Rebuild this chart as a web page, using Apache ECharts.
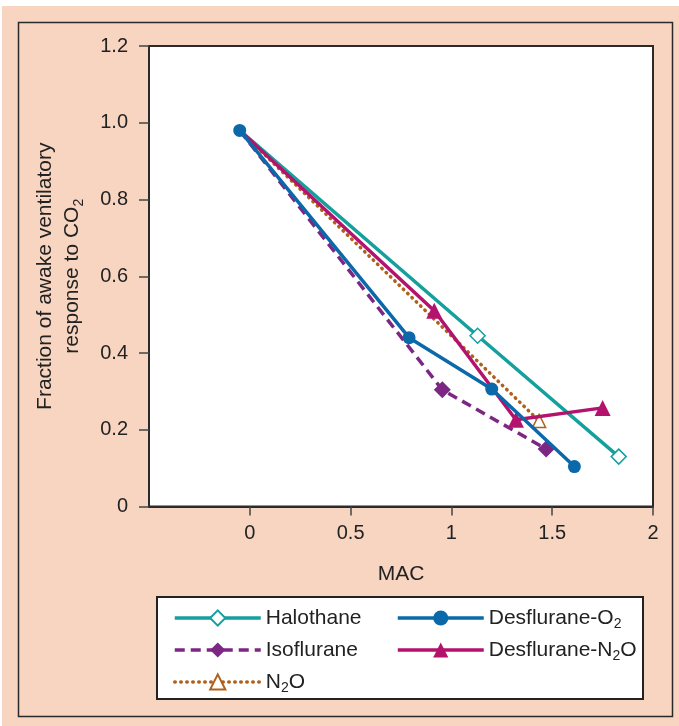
<!DOCTYPE html>
<html>
<head>
<meta charset="utf-8">
<script src="https://cdn.jsdelivr.net/npm/echarts@6/dist/echarts.min.js"></script>
<style>
html,body{margin:0;padding:0;background:#ffffff;}
#chart{width:679px;height:726px;}
</style>
</head>
<body>
<div id="chart"></div>
<script>
// ---- data ----
const xTicks = [0, 0.5, 1, 1.5, 2];
const halothaneX = [-0.05, 1.13, 1.83];
const halothaneY = [0.98, 0.445, 0.13];
const desO2X = [-0.05, 0.79, 1.20, 1.61];
const desO2Y = [0.98, 0.44, 0.306, 0.104];
const isoX = [-0.05, 0.955, 1.47];
const isoY = [0.98, 0.304, 0.150];
const desN2OX = [-0.05, 0.915, 1.32, 1.75];
const desN2OY = [0.98, 0.51, 0.226, 0.257];
const n2oX = [-0.05, 1.435];
const n2oY = [0.98, 0.223];

// shared starting point is marked only once (by the Desflurane-O2 circle)
const pairs = (xs, ys, hideFirst) => xs.map((x, i) =>
  (hideFirst && i === 0) ? {value: [x, ys[i]], symbol: 'none'} : [x, ys[i]]);

const FONT = '"Liberation Sans", Arial, Helvetica, sans-serif';
const TXT = '#222222';
const C = {
  halo: '#15a09e',
  o2: '#0b69aa',
  iso: '#7b2783',
  dn2o: '#b3126d',
  n2o: '#b0601c'
};

const chart = echarts.init(document.getElementById('chart'), null, {renderer: 'canvas'});

const subRich = {
  sub: {fontSize: 14, fontFamily: FONT, color: TXT, verticalAlign: 'bottom', lineHeight: 12}
};

const legendCommon = {
  orient: 'vertical', top: 600, itemGap: 6,
  itemWidth: 86, itemHeight: 19,
  lineStyle: {width: 3.5},
  textStyle: {fontSize: 21, fontFamily: FONT, color: TXT, lineHeight: 26, rich: subRich},
  selectedMode: false
};

const option = {
  backgroundColor: '#ffffff',
  animation: false,
  graphic: [
    {type: 'rect', z: -10, shape: {x: 2, y: 6, width: 677, height: 720}, style: {fill: '#f7d5c1'}},
    {type: 'rect', z: -9, shape: {x: 18.5, y: 22.5, width: 654, height: 694}, style: {fill: 'none', stroke: '#2a2a2a', lineWidth: 1.5}},
    {type: 'rect', z: -8, shape: {x: 157, y: 597, width: 486, height: 102}, style: {fill: '#ffffff', stroke: '#222222', lineWidth: 2}}
  ],
  grid: {
    left: 149, top: 46, right: 26, bottom: 219.5,
    show: true, backgroundColor: '#ffffff', borderColor: '#2a2a2a', borderWidth: 2,
    containLabel: false
  },
  xAxis: {
    type: 'value', min: -0.5, max: 2, interval: 0.5,
    name: 'MAC', nameLocation: 'middle', nameGap: 57,
    nameTextStyle: {fontSize: 21, fontFamily: FONT, color: TXT},
    axisLine: {show: true, onZero: false, lineStyle: {color: '#2a2a2a', width: 2}},
    axisTick: {show: true, inside: false, length: 9, customValues: xTicks, lineStyle: {color: '#444', width: 1.5}},
    axisLabel: {show: true, customValues: xTicks, margin: 17, fontSize: 20, fontFamily: FONT, color: TXT,
      formatter: v => String(v)},
    splitLine: {show: false}
  },
  yAxis: {
    type: 'value', min: 0, max: 1.2, interval: 0.2,
    name: 'Fraction of awake ventilatory\nresponse to CO{sub|2}', nameLocation: 'middle', nameGap: 63,
    nameTextStyle: {fontSize: 21, fontFamily: FONT, color: TXT, lineHeight: 27, rich: subRich},
    axisLine: {show: true, onZero: false, lineStyle: {color: '#2a2a2a', width: 2}},
    axisTick: {show: true, inside: false, length: 10, lineStyle: {color: '#444', width: 1.5}},
    axisLabel: {margin: 21, fontSize: 20, fontFamily: FONT, color: TXT,
      formatter: v => (v === 0 ? '0' : v.toFixed(1))},
    splitLine: {show: false}
  },
  legend: [
    Object.assign({}, legendCommon, {
      data: ['Halothane', 'Isoflurane', 'N2O'],
      left: 168,
      formatter: n => (n === 'N2O' ? 'N{sub|2}O' : n)
    }),
    Object.assign({}, legendCommon, {
      data: ['Desflurane-O2', 'Desflurane-N2O'],
      left: 391,
      formatter: n => (n === 'Desflurane-O2' ? 'Desflurane-O{sub|2}' : 'Desflurane-N{sub|2}O')
    })
  ],
  series: [
    {
      name: 'Halothane', type: 'line', data: pairs(halothaneX, halothaneY, true), z: 3,
      lineStyle: {color: C.halo, width: 3.5},
      itemStyle: {color: '#ffffff', borderColor: C.halo, borderWidth: 1.5},
      symbol: 'diamond', symbolSize: 15, showSymbol: true, showAllSymbol: true,
      emphasis: {disabled: true}
    },
    {
      name: 'N2O', type: 'line', data: pairs(n2oX, n2oY, true), z: 2,
      lineStyle: {color: C.n2o, width: 3.5, type: [0.5, 5.5], cap: 'round'},
      itemStyle: {color: '#ffffff', borderColor: C.n2o, borderWidth: 1.5},
      symbol: 'triangle', symbolSize: 13, showAllSymbol: true,
      emphasis: {disabled: true}
    },
    {
      name: 'Desflurane-N2O', type: 'line', data: pairs(desN2OX, desN2OY, true), z: 4,
      lineStyle: {color: C.dn2o, width: 3.5},
      itemStyle: {color: C.dn2o},
      symbol: 'triangle', symbolSize: 16, showAllSymbol: true,
      emphasis: {disabled: true}
    },
    {
      name: 'Isoflurane', type: 'line', data: pairs(isoX, isoY, true), z: 3,
      lineStyle: {color: C.iso, width: 3.5, type: [10, 6]},
      itemStyle: {color: C.iso},
      symbol: 'diamond', symbolSize: 17, showAllSymbol: true,
      emphasis: {disabled: true}
    },
    {
      name: 'Desflurane-O2', type: 'line', data: pairs(desO2X, desO2Y, false), z: 5,
      lineStyle: {color: C.o2, width: 3.5},
      itemStyle: {color: C.o2},
      symbol: 'circle', symbolSize: 13, showAllSymbol: true,
      emphasis: {disabled: true}
    }
  ]
};
chart.setOption(option);
</script>
</body>
</html>
